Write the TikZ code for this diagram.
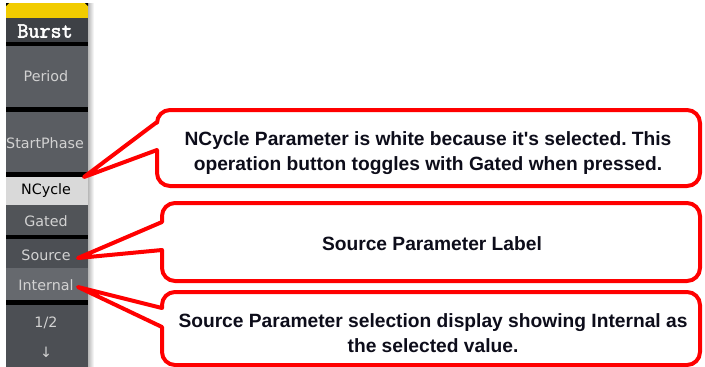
\documentclass[tikz,border=0pt]{standalone}
\usepackage{fontspec}
\setmainfont{Liberation Sans}[Ligatures=TeXOff]
\newfontfamily\panelfont{DejaVu Sans}
\newfontfamily\burstfont{Latin Modern Mono}[FakeBold=2.5]
\frenchspacing
\definecolor{hdr}{HTML}{3E4146}
\definecolor{btn}{HTML}{5A5D62}
\definecolor{btnb}{HTML}{515458}
\definecolor{btnc}{HTML}{4C4F54}
\definecolor{btnsel}{HTML}{66696E}
\definecolor{selw}{HTML}{D9D9D9}
\definecolor{ptxt}{HTML}{D2D2D2}
\definecolor{ylw}{HTML}{F2CC00}
\definecolor{ctxt}{HTML}{0D0D1A}
\begin{document}
\begin{tikzpicture}[x=1pt,y=-1pt,
  ptext/.style={font=\panelfont\fontsize{14.3}{16}\selectfont, text=ptxt, inner sep=0pt},
  burst/.style={font=\burstfont\fontsize{21.5}{22}\selectfont, text=white, inner sep=0pt},
  callout/.style={draw=red, line width=4pt, fill=white, line join=round},
  ctext/.style={font=\bfseries\fontsize{19.2}{25}\selectfont, text=ctxt, align=center, inner sep=0pt}]
\useasboundingbox (0,0) rectangle (705,367);
% right shadow of the panel
\shade[left color=black!28, right color=white] (88,3) rectangle (94,367);
\begin{scope}
\clip (6,3) rectangle (88,367);
\fill[btnc] (6,3) rectangle (88,367);
\fill[ylw] (6,3) rectangle (88,18);
\fill[black] (6,3) -- (9,3) -- (6,6) -- cycle;
\fill[black] (88,3) -- (85,3) -- (88,6) -- cycle;
\fill[hdr] (6,18) rectangle (88,42);
\fill[black] (6,42) rectangle (88,46);
\fill[btn] (6,46) rectangle (88,107);
\fill[black] (6,107) rectangle (88,112);
\fill[btn] (6,112) rectangle (88,172);
\fill[black] (6,172) rectangle (88,177);
\fill[selw] (6,177) rectangle (88,205);
\fill[btnb] (6,205) rectangle (88,235);
\fill[black] (6,235) rectangle (88,239);
\fill[btnc] (6,239) rectangle (88,268);
\fill[btnsel] (6,268) rectangle (88,300);
\fill[black] (6,300) rectangle (88,305);
\fill[btnc] (6,305) rectangle (88,367);
\node[burst] (burst) at (45,31) {Burst};
\node[ptext] (period) at (46,76) {Period};
\node[ptext] (startphase) at (45,143) {StartPhase};
\node[ptext, text=black] (ncycle) at (46,191) {NCycle};
\node[ptext] (gated) at (46,221) {Gated};
\node[ptext] (source) at (46,255) {Source};
\node[ptext] (internal) at (46,285) {Internal};
\node[ptext] (page) at (46,323) {1/2};
\node[ptext] (down) at (46,352) {↓};
\end{scope}
% callout 1
\coordinate (tip1) at (84,177);
\path[callout] (tip1) -- (157,122) -- (157,123)
  arc[start angle=180, end angle=90, radius=13pt] -- (687,110)
  arc[start angle=90, end angle=0, radius=13pt] -- (700,173)
  arc[start angle=0, end angle=-90, radius=13pt] -- (170,186)
  arc[start angle=-90, end angle=-180, radius=13pt] -- (157,150) -- cycle;
\node[ctext] (t1) at (428,153) {NCycle Parameter is white because it's selected. This\\operation button toggles with Gated when pressed.};
% callout 2
\coordinate (tip2) at (78,258);
\path[callout] (tip2) -- (162,222) -- (162,216)
  arc[start angle=180, end angle=90, radius=13pt] -- (687,203)
  arc[start angle=90, end angle=0, radius=13pt] -- (700,268)
  arc[start angle=0, end angle=-90, radius=13pt] -- (175,281)
  arc[start angle=-90, end angle=-180, radius=13pt] -- (162,250) -- cycle;
\node[ctext] (t2) at (432,244) {Source Parameter Label};
% callout 3
\coordinate (tip3) at (78,287);
\path[callout] (tip3) -- (162,308) -- (162,305)
  arc[start angle=180, end angle=90, radius=13pt] -- (687,292)
  arc[start angle=90, end angle=0, radius=13pt] -- (700,352)
  arc[start angle=0, end angle=-90, radius=13pt] -- (175,365)
  arc[start angle=-90, end angle=-180, radius=13pt] -- (162,327) -- cycle;
\node[ctext] (t3) at (433,333) {Source Parameter selection display showing Internal as\\the selected value.};
\end{tikzpicture}
\end{document}
